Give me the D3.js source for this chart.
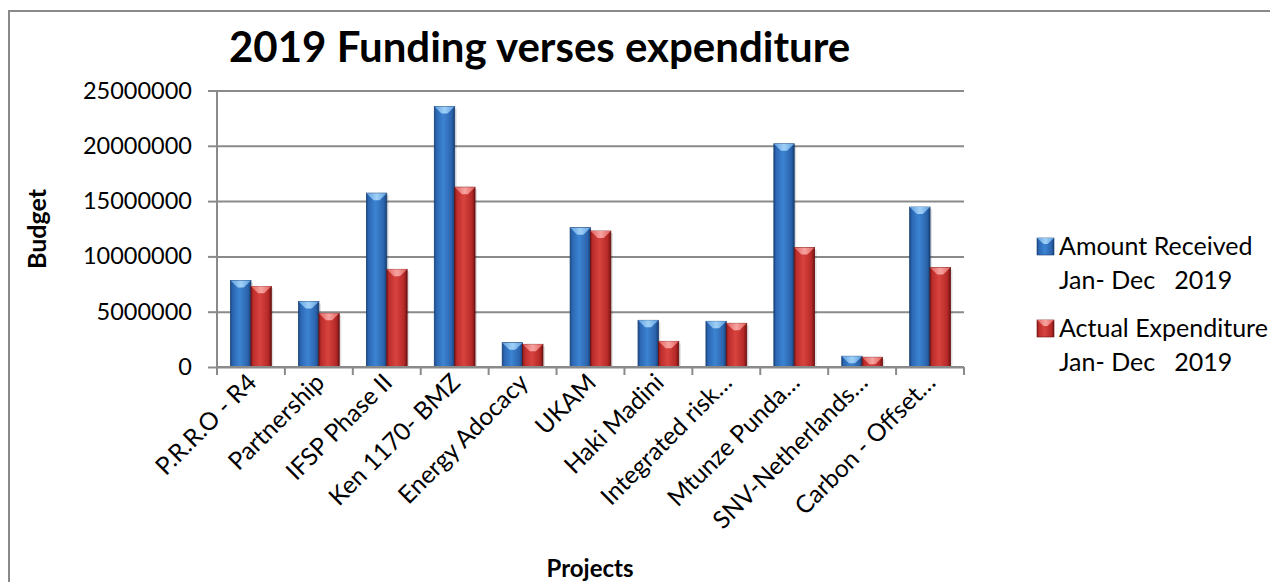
<!DOCTYPE html>
<html>
<head>
<meta charset="utf-8">
<script src="https://cdn.jsdelivr.net/npm/d3@7"></script>
<style>
  html, body { margin: 0; padding: 0; background: #fff; }
  svg { display: block; }
  text { font-family: Lato, "Open Sans", sans-serif; fill: #000; }
</style>
</head>
<body>
<svg id="chart" width="1270" height="582"></svg>
<script>
const categories = ["P.R.R.O - R4", "Partnership", "IFSP Phase II", "Ken 1170- BMZ", "Energy Adocacy", "UKAM", "Haki Madini", "Integrated risk…", "Mtunze Punda…", "SNV-Netherlands…", "Carbon - Offset…"];
const amountReceived = [7830000, 5930000, 15720000, 23550000, 2200000, 12600000, 4220000, 4130000, 20180000, 970000, 14460000];
const actualExpenditure = [7290000, 4850000, 8830000, 16260000, 2050000, 12290000, 2320000, 3950000, 10810000, 880000, 9000000];
const seriesNames = ["Amount Received", "Actual Expenditure"];
const seriesSub = ["Jan- Dec   2019", "Jan- Dec   2019"];
const yTicks = [0, 5000000, 10000000, 15000000, 20000000, 25000000];
const title = "2019 Funding verses expenditure";
const xTitle = "Projects";
const yTitle = "Budget";

const svg = d3.select("#chart");
const W = 1270, H = 582;
const m = { left: 217, right: 964, top: 90.5, bottom: 367 };

// outer chart border
svg.append("rect").attr("x", 9).attr("y", 11).attr("width", W + 20).attr("height", H + 20)
  .attr("fill", "#fff").attr("stroke", "#898989").attr("stroke-width", 2);

const defs = svg.append("defs");
function grad(id, stops) {
  const g = defs.append("linearGradient").attr("id", id).attr("x1", "0%").attr("x2", "100%").attr("y1", "0%").attr("y2", "0%");
  stops.forEach(s => g.append("stop").attr("offset", s[0]).attr("stop-color", s[1]));
}
grad("gBlue", [["0%", "#1c4b88"], ["12%", "#2c68b5"], ["45%", "#3c84d2"], ["85%", "#2b63ac"], ["100%", "#183f73"]]);
grad("gRed", [["0%", "#8a1a1a"], ["12%", "#bd2e2c"], ["45%", "#d8433f"], ["85%", "#b42927"], ["100%", "#701212"]]);
grad("gBlueTop", [["0%", "#5f9fe0"], ["50%", "#9fd0f7"], ["100%", "#5f9fe0"]]);
grad("gRedTop", [["0%", "#e0605c"], ["50%", "#f7a3a0"], ["100%", "#e0605c"]]);
const fills = ["url(#gBlue)", "url(#gRed)"];
const tops = ["url(#gBlueTop)", "url(#gRedTop)"];
const edges = ["#173f75", "#6a1010"];

const x = d3.scaleBand().domain(categories).range([m.left, m.right]).padding(0);
const xs = d3.scaleBand().domain([0, 1]).range([x.bandwidth() * 0.2, x.bandwidth() * 0.8]).padding(0);
const y = d3.scaleLinear().domain([0, 25000000]).range([m.bottom, m.top]);

// gridlines
const grid = svg.append("g").attr("transform", `translate(${m.left},0)`)
  .call(d3.axisLeft(y).tickValues(yTicks).tickSize(-(m.right - m.left)).tickFormat(""));
grid.select(".domain").remove();
grid.selectAll("line").attr("stroke", "#8a8a8a").attr("stroke-width", 2);

// y axis
const yAxis = svg.append("g").attr("transform", `translate(${m.left},0)`)
  .call(d3.axisLeft(y).tickValues(yTicks).tickSize(9).tickPadding(16).tickFormat(d => String(d)));
yAxis.select(".domain").attr("stroke", "#8a8a8a").attr("stroke-width", 2).attr("d", `M0,${m.top}V${m.bottom}`);
yAxis.selectAll("line").attr("stroke", "#8a8a8a").attr("stroke-width", 2);
yAxis.selectAll("text").attr("font-size", 23.5).attr("font-family", "Lato").attr("fill", "#000");

// bars
const data = categories.map((c, i) => ({ c, v: [amountReceived[i], actualExpenditure[i]] }));
const groups = svg.append("g").selectAll("g").data(data).join("g")
  .attr("transform", d => `translate(${x(d.c)},0)`);
groups.each(function (d) {
  const g = d3.select(this);
  d.v.forEach((v, k) => {
    const bx = xs(k), bw = xs.bandwidth(), by = y(v), bh = y(0) - y(v);
    g.append("rect").attr("x", bx + 2).attr("y", by + 2).attr("width", bw).attr("height", bh - 2)
      .attr("fill", "#000").attr("opacity", 0.12);
    g.append("rect").attr("x", bx).attr("y", by).attr("width", bw).attr("height", bh)
      .attr("fill", fills[k]).attr("stroke", edges[k]).attr("stroke-width", 0.8);
    const th = Math.min(7, bh);
    g.append("path").attr("d", `M${bx},${by}H${bx + bw}L${bx + bw / 2 + 3},${by + th}H${bx + bw / 2 - 3}Z`)
      .attr("fill", tops[k]);
  });
});

// x axis line and ticks at category boundaries
const xAxis = svg.append("g");
xAxis.append("line").attr("x1", m.left).attr("x2", m.right).attr("y1", y(0)).attr("y2", y(0))
  .attr("stroke", "#8a8a8a").attr("stroke-width", 2);
const bounds = categories.map(c => x(c)).concat([x.range()[1]]);
xAxis.selectAll("line.tk").data(bounds).join("line").attr("class", "tk")
  .attr("x1", d => d).attr("x2", d => d).attr("y1", y(0)).attr("y2", y(0) + 8)
  .attr("stroke", "#8a8a8a").attr("stroke-width", 2);
xAxis.selectAll("text").data(categories).join("text")
  .attr("transform", d => `translate(${x(d) + x.bandwidth() / 2 + 1},${y(0) + 11}) rotate(-45)`)
  .attr("text-anchor", "end").attr("dy", "0.35em").attr("font-size", 24.5)
  .text(d => d);

// titles
svg.append("text").attr("x", 229).attr("y", 62).attr("text-anchor", "start")
  .attr("font-size", 42).attr("font-weight", 700).text(title);
svg.append("text").attr("x", 590).attr("y", 577).attr("text-anchor", "middle")
  .attr("font-size", 24).attr("font-weight", 700).text(xTitle);
svg.append("text").attr("transform", `translate(46,229) rotate(-90)`).attr("text-anchor", "middle")
  .attr("font-size", 25).attr("font-weight", 700).text(yTitle);

// legend
const leg = svg.append("g");
seriesNames.forEach((s, k) => {
  const base = 255 + k * 82;
  const lx = 1037, ly = base - 17, ls = 17;
  leg.append("rect").attr("x", lx).attr("y", ly).attr("width", ls).attr("height", ls)
    .attr("fill", fills[k]).attr("stroke", edges[k]).attr("stroke-width", 0.6);
  leg.append("path").attr("d", `M${lx},${ly}H${lx + ls}L${lx + ls / 2 + 2},${ly + 6}H${lx + ls / 2 - 2}Z`).attr("fill", tops[k]);
  leg.append("text").attr("x", 1059).attr("y", base).attr("font-size", 25).text(s);
  leg.append("text").attr("x", 1059).attr("y", base + 34).attr("font-size", 25)
    .style("white-space", "pre").text(seriesSub[k]);
});
</script>
</body>
</html>
